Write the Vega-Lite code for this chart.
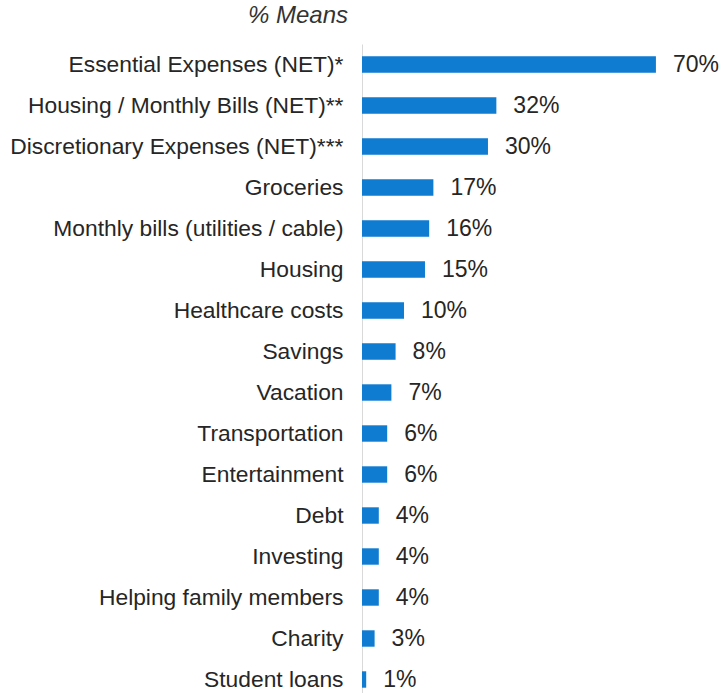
{
  "$schema": "https://vega.github.io/schema/vega-lite/v6.json",
  "autosize": {"type": "none"},
  "padding": {"left": 362, "top": 44, "right": 0, "bottom": 0},
  "width": 359,
  "height": 656,
  "background": "white",
  "title": {
    "text": "% Means",
    "anchor": "start",
    "frame": "group",
    "dx": -114,
    "offset": 16,
    "fontStyle": "italic",
    "fontWeight": "normal",
    "font": "Liberation Sans",
    "fontSize": 24,
    "color": "#333333"
  },
  "data": {
    "values": [
      {"category": "Essential Expenses (NET)*", "value": 70, "label": "70%"},
      {"category": "Housing / Monthly Bills (NET)**", "value": 32, "label": "32%"},
      {"category": "Discretionary Expenses (NET)***", "value": 30, "label": "30%"},
      {"category": "Groceries", "value": 17, "label": "17%"},
      {"category": "Monthly bills (utilities / cable)", "value": 16, "label": "16%"},
      {"category": "Housing", "value": 15, "label": "15%"},
      {"category": "Healthcare costs", "value": 10, "label": "10%"},
      {"category": "Savings", "value": 8, "label": "8%"},
      {"category": "Vacation", "value": 7, "label": "7%"},
      {"category": "Transportation", "value": 6, "label": "6%"},
      {"category": "Entertainment", "value": 6, "label": "6%"},
      {"category": "Debt", "value": 4, "label": "4%"},
      {"category": "Investing", "value": 4, "label": "4%"},
      {"category": "Helping family members", "value": 4, "label": "4%"},
      {"category": "Charity", "value": 3, "label": "3%"},
      {"category": "Student loans", "value": 1, "label": "1%"}
    ]
  },
  "encoding": {
    "y": {
      "field": "category",
      "type": "nominal",
      "sort": null,
      "scale": {"paddingInner": 0.6, "paddingOuter": 0.3},
      "axis": {
        "title": null,
        "ticks": false,
        "domain": true,
        "domainColor": "#d9d9d9",
        "domainWidth": 1,
        "labelFont": "Liberation Sans",
        "labelFontSize": 22.8,
        "labelColor": "#262626",
        "labelPadding": 19,
        "labelLimit": 400
      }
    },
    "x": {
      "field": "value",
      "type": "quantitative",
      "scale": {"domain": [0, 85.5], "nice": false, "zero": true},
      "axis": null
    }
  },
  "layer": [
    {"mark": {"type": "bar", "color": "#0F7BD1"}},
    {
      "mark": {
        "type": "text",
        "align": "left",
        "baseline": "middle",
        "dx": 17,
        "font": "Liberation Sans",
        "fontSize": 23,
        "color": "#262626"
      },
      "encoding": {"text": {"field": "label", "type": "nominal"}}
    }
  ],
  "config": {"view": {"stroke": null}}
}
